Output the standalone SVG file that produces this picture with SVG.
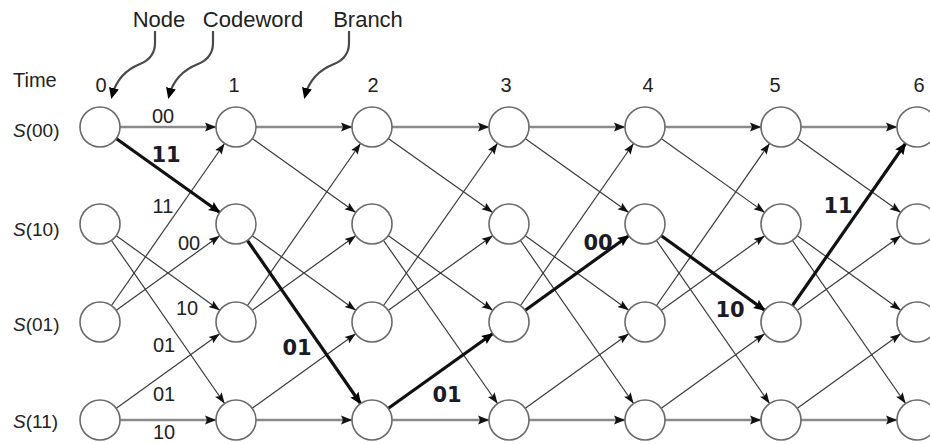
<svg xmlns="http://www.w3.org/2000/svg" width="930" height="444" viewBox="0 0 930 444">
<style>
.bg{fill:#fff}
.nd{fill:#fff;stroke:#6a6a6a;stroke-width:1.6}
.h{stroke:#8a8a8a;stroke-width:2.4;fill:none;marker-end:url(#ah)}
.d{stroke:#3a3a3a;stroke-width:1.2;fill:none;marker-end:url(#ad)}
.b{stroke:#111;stroke-width:3.2;fill:none;marker-end:url(#ab)}
.ann{stroke:#4a4a4a;stroke-width:2.2;fill:none;marker-end:url(#aa)}
.t{font-family:"Liberation Sans",Arial,sans-serif;fill:#222}
.top{font-size:22px;text-anchor:middle}
.tm{font-size:20px}
.col{font-size:20px;text-anchor:middle}
.st{font-size:19px}
.cw{font-size:20px;text-anchor:middle}
.bw{font-family:"DejaVu Sans",Verdana,sans-serif;font-weight:bold;font-size:21px;text-anchor:middle;fill:#1c1c26}
</style>
<defs>
<marker id="ah" markerUnits="userSpaceOnUse" markerWidth="12" markerHeight="10" refX="31" refY="5" orient="auto"><path d="M0,0.5 L11,5 L0,9.5 L2,5 z" fill="#111"/></marker>
<marker id="ad" markerUnits="userSpaceOnUse" markerWidth="12" markerHeight="10" refX="31" refY="5" orient="auto"><path d="M0,1 L11,5 L0,9 L2,5 z" fill="#111"/></marker>
<marker id="ab" markerUnits="userSpaceOnUse" markerWidth="13" markerHeight="11" refX="31" refY="5.5" orient="auto"><path d="M0,0.5 L12,5.5 L0,10.5 L2,5.5 z" fill="#000"/></marker>
<marker id="aa" markerUnits="userSpaceOnUse" markerWidth="12" markerHeight="10" refX="8" refY="5" orient="auto"><path d="M0,0 L11,5 L0,10 z" fill="#000"/></marker>
</defs>
<rect class="bg" x="0" y="0" width="930" height="444"/>

<g id="annotations">
<path class="ann" d="M155,31 L155,43 C155,52 150,60 140,64 C125,70 116,80 112,96"/>
<path class="ann" d="M213,31 L213,43 C213,52 208,60 198,64 C183,70 173,80 169,96"/>
<path class="ann" d="M349,31 L349,43 C349,52 344,60 334,64 C319,70 309,80 305,96"/>
</g>

<g id="connectors">
<!-- col 0 -> 1 -->
<line class="h" x1="100" y1="127" x2="236" y2="127"/>
<line class="h" x1="100" y1="420" x2="236" y2="420"/>
<line class="d" x1="100" y1="224" x2="236" y2="322"/>
<line class="d" x1="100" y1="224" x2="236" y2="420"/>
<line class="d" x1="100" y1="322" x2="236" y2="127"/>
<line class="d" x1="100" y1="322" x2="236" y2="224"/>
<line class="d" x1="100" y1="420" x2="236" y2="322"/>
<!-- col 1 -> 2 -->
<line class="h" x1="236" y1="127" x2="372" y2="127"/>
<line class="h" x1="236" y1="420" x2="372" y2="420"/>
<line class="d" x1="236" y1="127" x2="372" y2="224"/>
<line class="d" x1="236" y1="224" x2="372" y2="322"/>
<line class="d" x1="236" y1="322" x2="372" y2="127"/>
<line class="d" x1="236" y1="322" x2="372" y2="224"/>
<line class="d" x1="236" y1="420" x2="372" y2="322"/>
<!-- col 2 -> 3 -->
<line class="h" x1="372" y1="127" x2="509" y2="127"/>
<line class="h" x1="372" y1="420" x2="509" y2="420"/>
<line class="d" x1="372" y1="127" x2="509" y2="224"/>
<line class="d" x1="372" y1="224" x2="509" y2="322"/>
<line class="d" x1="372" y1="224" x2="509" y2="420"/>
<line class="d" x1="372" y1="322" x2="509" y2="127"/>
<line class="d" x1="372" y1="322" x2="509" y2="224"/>
<!-- col 3 -> 4 -->
<line class="h" x1="509" y1="127" x2="645" y2="127"/>
<line class="h" x1="509" y1="420" x2="645" y2="420"/>
<line class="d" x1="509" y1="127" x2="645" y2="224"/>
<line class="d" x1="509" y1="224" x2="645" y2="322"/>
<line class="d" x1="509" y1="224" x2="645" y2="420"/>
<line class="d" x1="509" y1="322" x2="645" y2="127"/>
<line class="d" x1="509" y1="420" x2="645" y2="322"/>
<!-- col 4 -> 5 -->
<line class="h" x1="645" y1="127" x2="781" y2="127"/>
<line class="h" x1="645" y1="420" x2="781" y2="420"/>
<line class="d" x1="645" y1="127" x2="781" y2="224"/>
<line class="d" x1="645" y1="224" x2="781" y2="420"/>
<line class="d" x1="645" y1="322" x2="781" y2="127"/>
<line class="d" x1="645" y1="322" x2="781" y2="224"/>
<line class="d" x1="645" y1="420" x2="781" y2="322"/>
<!-- col 5 -> 6 -->
<line class="h" x1="781" y1="127" x2="917" y2="127"/>
<line class="h" x1="781" y1="420" x2="917" y2="420"/>
<line class="d" x1="781" y1="127" x2="917" y2="224"/>
<line class="d" x1="781" y1="224" x2="917" y2="322"/>
<line class="d" x1="781" y1="224" x2="917" y2="420"/>
<line class="d" x1="781" y1="322" x2="917" y2="224"/>
<line class="d" x1="781" y1="420" x2="917" y2="322"/>
<!-- survivor path (bold) -->
<line class="b" x1="100" y1="127" x2="236" y2="224"/>
<line class="b" x1="236" y1="224" x2="372" y2="420"/>
<line class="b" x1="372" y1="420" x2="509" y2="322"/>
<line class="b" x1="509" y1="322" x2="645" y2="224"/>
<line class="b" x1="645" y1="224" x2="781" y2="322"/>
<line class="b" x1="781" y1="322" x2="917" y2="127"/>
</g>

<g id="nodes">
<g id="n0-00"><circle class="nd" cx="100" cy="127" r="20"/></g>
<g id="n0-10"><circle class="nd" cx="100" cy="224" r="20"/></g>
<g id="n0-01"><circle class="nd" cx="100" cy="322" r="20"/></g>
<g id="n0-11"><circle class="nd" cx="100" cy="420" r="20"/></g>
<g id="n1-00"><circle class="nd" cx="236" cy="127" r="20"/></g>
<g id="n1-10"><circle class="nd" cx="236" cy="224" r="20"/></g>
<g id="n1-01"><circle class="nd" cx="236" cy="322" r="20"/></g>
<g id="n1-11"><circle class="nd" cx="236" cy="420" r="20"/></g>
<g id="n2-00"><circle class="nd" cx="372" cy="127" r="20"/></g>
<g id="n2-10"><circle class="nd" cx="372" cy="224" r="20"/></g>
<g id="n2-01"><circle class="nd" cx="372" cy="322" r="20"/></g>
<g id="n2-11"><circle class="nd" cx="372" cy="420" r="20"/></g>
<g id="n3-00"><circle class="nd" cx="509" cy="127" r="20"/></g>
<g id="n3-10"><circle class="nd" cx="509" cy="224" r="20"/></g>
<g id="n3-01"><circle class="nd" cx="509" cy="322" r="20"/></g>
<g id="n3-11"><circle class="nd" cx="509" cy="420" r="20"/></g>
<g id="n4-00"><circle class="nd" cx="645" cy="127" r="20"/></g>
<g id="n4-10"><circle class="nd" cx="645" cy="224" r="20"/></g>
<g id="n4-01"><circle class="nd" cx="645" cy="322" r="20"/></g>
<g id="n4-11"><circle class="nd" cx="645" cy="420" r="20"/></g>
<g id="n5-00"><circle class="nd" cx="781" cy="127" r="20"/></g>
<g id="n5-10"><circle class="nd" cx="781" cy="224" r="20"/></g>
<g id="n5-01"><circle class="nd" cx="781" cy="322" r="20"/></g>
<g id="n5-11"><circle class="nd" cx="781" cy="420" r="20"/></g>
<g id="n6-00"><circle class="nd" cx="917" cy="127" r="20"/></g>
<g id="n6-10"><circle class="nd" cx="917" cy="224" r="20"/></g>
<g id="n6-01"><circle class="nd" cx="917" cy="322" r="20"/></g>
<g id="n6-11"><circle class="nd" cx="917" cy="420" r="20"/></g>
</g>

<g id="labels">
<text class="t top" x="159" y="27">Node</text>
<text class="t top" x="253" y="27">Codeword</text>
<text class="t top" x="368" y="27">Branch</text>
<text class="t tm" x="13" y="87">Time</text>
<text class="t col" x="101" y="92">0</text>
<text class="t col" x="234" y="92">1</text>
<text class="t col" x="373" y="92">2</text>
<text class="t col" x="506" y="92">3</text>
<text class="t col" x="648" y="92">4</text>
<text class="t col" x="775" y="92">5</text>
<text class="t col" x="919" y="92">6</text>
<text class="t st" x="13" y="137"><tspan font-style="italic">S</tspan>(00)</text>
<text class="t st" x="13" y="236"><tspan font-style="italic">S</tspan>(10)</text>
<text class="t st" x="13" y="331"><tspan font-style="italic">S</tspan>(01)</text>
<text class="t st" x="13" y="428"><tspan font-style="italic">S</tspan>(11)</text>
<text class="t cw" x="163" y="123">00</text>
<text class="t cw" x="163" y="213">11</text>
<text class="t cw" x="189" y="250">00</text>
<text class="t cw" x="187" y="315">10</text>
<text class="t cw" x="164" y="352">01</text>
<text class="t cw" x="164" y="401">01</text>
<text class="t cw" x="164" y="439" font-size="19">10</text>
<text class="bw" x="166" y="162">11</text>
<text class="bw" x="297" y="355">01</text>
<text class="bw" x="447" y="402">01</text>
<text class="bw" x="598" y="250">00</text>
<text class="bw" x="730" y="317">10</text>
<text class="bw" x="838" y="213">11</text>
</g>
</svg>
